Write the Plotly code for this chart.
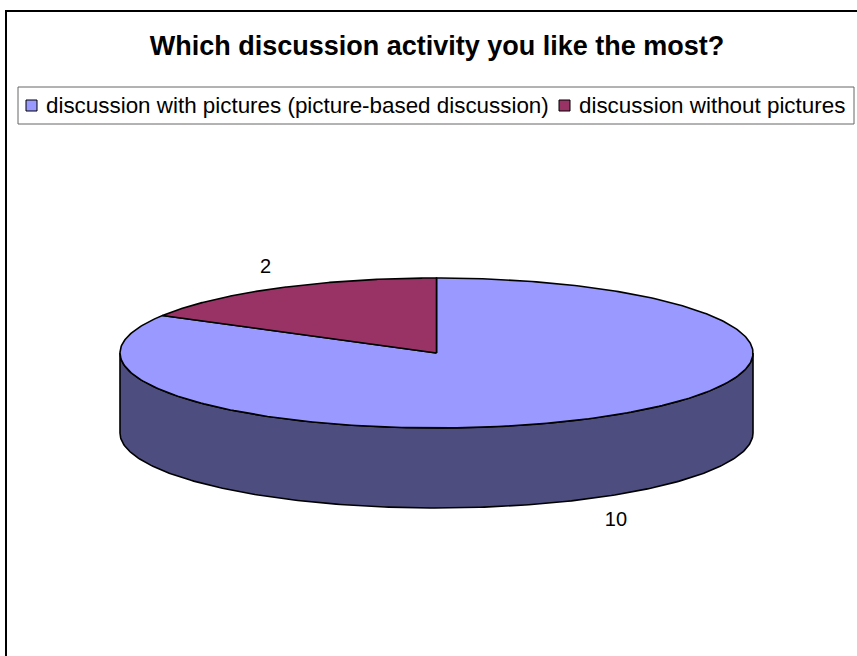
import numpy as np
import plotly.graph_objects as go

title = "Which discussion activity you like the most?"
categories = ["discussion with pictures (picture-based discussion)", "discussion without pictures"]
values = [10, 2]
top_colors = ["#9999FF", "#993366"]
side_colors = ["#4D4D80", "#4D1A33"]

W, H = 857, 656
cx, cy, rx, ry, depth = 436.5, 353, 316.5, 75, 80
legend_box = (18, 87, 854, 124)
legend_swatch_x = [26, 559]
legend_text_x = [45, 578]
legend_mid_y = 105
label_kx = [1.134, 1.08]
label_ky = [1.36, 1.31]

def px(a):
    return cx + rx * np.sin(a)
def py(a):
    return cy - ry * np.cos(a)

fig = go.Figure()
edges = np.cumsum([0] + values) / sum(values) * 2 * np.pi

# Side walls (only the front half of the rim is visible)
for i in range(len(values)):
    lo, hi = max(edges[i], np.pi / 2), min(edges[i + 1], 3 * np.pi / 2)
    if hi <= lo:
        continue
    t = np.linspace(lo, hi, 240)
    xs = np.r_[px(t), px(t[::-1]), px(t[0])]
    ys = np.r_[py(t), py(t[::-1]) + depth, py(t[0])]
    fig.add_trace(go.Scatter(x=xs, y=ys, mode="lines", fill="toself", fillcolor=side_colors[i],
                             line=dict(color="black", width=1.6), showlegend=False, hoverinfo="skip"))

# Top face slices
for i in range(len(values)):
    t = np.linspace(edges[i], edges[i + 1], 360)
    xs = np.r_[cx, px(t), cx]
    ys = np.r_[cy, py(t), cy]
    fig.add_trace(go.Scatter(x=xs, y=ys, mode="lines", fill="toself", fillcolor=top_colors[i],
                             line=dict(color="black", width=1.6), showlegend=False,
                             name=categories[i], text=f"{categories[i]}: {values[i]}", hoverinfo="text"))

# Data labels
mid = (edges[:-1] + edges[1:]) / 2
lx = cx + rx * np.array(label_kx) * np.sin(mid)
ly = cy - ry * np.array(label_ky) * np.cos(mid) + np.where(np.cos(mid) < 0, depth, 0)
fig.add_trace(go.Scatter(x=lx, y=ly, mode="text", text=[str(v) for v in values],
                         textfont=dict(family="Liberation Sans", size=20, color="black"),
                         showlegend=False, hoverinfo="skip"))

shapes = [
    dict(type="rect", xref="x", yref="y", x0=6, y0=11, x1=W + 5, y1=H + 5,
         line=dict(color="black", width=2), layer="below"),
    dict(type="rect", xref="x", yref="y", x0=legend_box[0], y0=legend_box[1], x1=legend_box[2], y1=legend_box[3],
         line=dict(color="#666666", width=1), fillcolor="white", layer="below"),
]
annotations = []
for i, c in enumerate(categories):
    shapes.append(dict(type="rect", xref="x", yref="y", x0=legend_swatch_x[i], x1=legend_swatch_x[i] + 11,
                       y0=legend_mid_y - 5, y1=legend_mid_y + 6,
                       line=dict(color="black", width=1), fillcolor=top_colors[i]))
    annotations.append(dict(xref="x", yref="y", x=legend_text_x[i], y=legend_mid_y, xanchor="left", yanchor="middle",
                            text=c, showarrow=False, borderpad=0,
                            font=dict(family="Liberation Sans", size=22.4, color="black")))

fig.update_layout(
    width=W, height=H, margin=dict(l=0, r=0, t=0, b=0), showlegend=False,
    paper_bgcolor="white", plot_bgcolor="white",
    xaxis=dict(range=[0, W], visible=False, fixedrange=True),
    yaxis=dict(range=[H, 0], visible=False, fixedrange=True),
    title=dict(text=f"<b>{title}</b>", x=437 / W, xanchor="center", y=1 - 46 / H, yanchor="middle",
               font=dict(family="Liberation Sans", size=27, color="black")),
    shapes=shapes, annotations=annotations,
)
fig.write_html("out.html", config={"displayModeBar": False},
               post_script="document.body.style.margin='0';document.documentElement.style.overflow='hidden';")
